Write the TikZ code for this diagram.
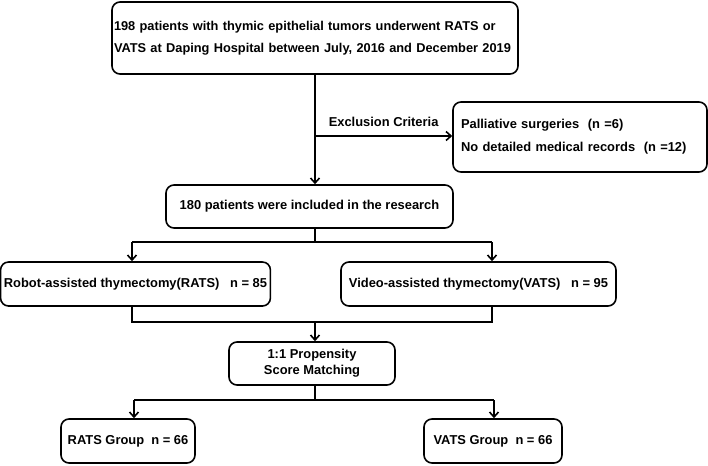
\documentclass[tikz,border=0pt]{standalone}
\usepackage{fontspec}
\setmainfont{Liberation Sans}
\usepackage{tikz}
\usetikzlibrary{arrows.meta}
\tikzstyle{box}=[draw, line width=1.6pt, rounded corners=8pt, font=\bfseries\fontsize{12.9}{22}\selectfont, inner ysep=0pt]
\tikzstyle{link}=[line width=1.6pt]
\tikzstyle{arrow}=[line width=1.6pt, -{Straight Barb[length=5pt,width=9pt]}]

\begin{document}
\begin{tikzpicture}[x=1pt,y=-1pt]
        \useasboundingbox (0,0) rectangle (708,465);
        \node[box, text width=402pt, inner xsep=2pt, minimum height=72pt, align=left, font=\bfseries\fontsize{12.8}{22}\selectfont] (all) at (315,38) {198 patients with thymic epithelial tumors underwent RATS or\\VATS at Daping Hospital between July, 2016 and December 2019};
        \node[box, text width=238pt, inner xsep=8pt, minimum height=70pt, align=left, font=\bfseries\fontsize{12.9}{23}\selectfont] (excl) at (580,137) {Palliative surgeries~~(n =6)\\No detailed medical records~~(n =12)};
        \node[box, minimum width=287pt, minimum height=43pt] (incl) at (309.5,206.5) {180 patients were included in the research};
        \node[box, minimum width=267pt, minimum height=44pt] (rats) at (135.5,284) {Robot-assisted thymectomy(RATS)~~~n = 85};
        \node[box, minimum width=275pt, minimum height=44pt] (vats) at (478.5,284) {Video-assisted thymectomy(VATS)~~~n = 95};
        \node[box, minimum width=166pt, minimum height=43pt, align=center, font=\bfseries\fontsize{12.9}{16}\selectfont] (psm) at (312,363.5) {1:1 Propensity\\Score Matching};
        \node[box, minimum width=134pt, minimum height=44pt] (ratsg) at (128,441) {RATS Group~~n = 66};
        \node[box, minimum width=138pt, minimum height=44pt] (vatsg) at (493,441) {VATS Group~~n = 66};
        \coordinate (s1) at (315,242);
        \coordinate (l1) at (132,242);
        \coordinate (r1) at (492,242);
        \coordinate (s2) at (315,322);
        \coordinate (s3) at (315,400);
        \coordinate (l3) at (134,400);
        \coordinate (r3) at (494,400);
        \draw[arrow] (all.south) -- (all.south |- incl.north);
        \draw[arrow] (all.south |- 0,136) -- (excl.west |- 0,136) node[midway, above=5pt, font=\bfseries\fontsize{12.9}{15}\selectfont]{Exclusion Criteria};
        \draw[link] (s1 |- incl.south) -- (s1);
        \draw[link] (l1) -- (r1);
        \draw[arrow] (l1) -- (l1 |- rats.north);
        \draw[arrow] (r1) -- (r1 |- vats.north);
        \draw[link] (l1 |- rats.south) |- (s2) -| (r1 |- vats.south);
        \draw[arrow] (s2) -- (s2 |- psm.north);
        \draw[link] (s3 |- psm.south) -- (s3);
        \draw[link] (l3) -- (r3);
        \draw[arrow] (l3) -- (l3 |- ratsg.north);
        \draw[arrow] (r3) -- (r3 |- vatsg.north);
\end{tikzpicture}
\end{document}
